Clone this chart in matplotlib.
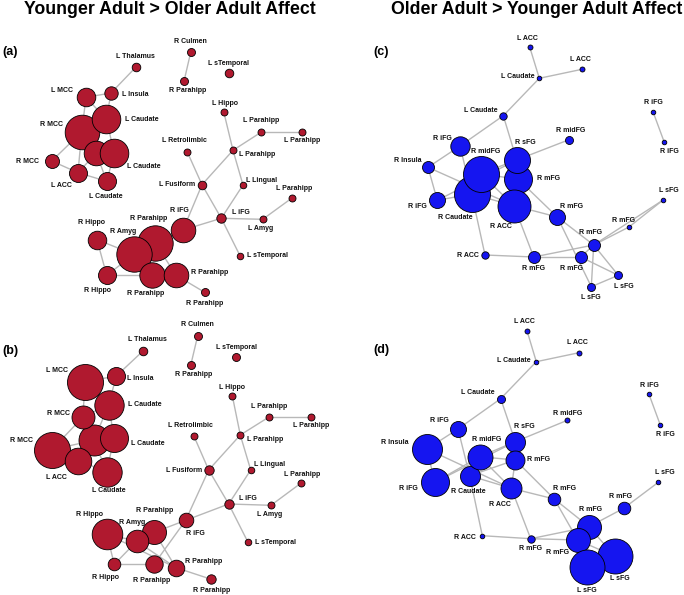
import matplotlib
matplotlib.use('Agg')
import matplotlib.pyplot as plt

RED = '#b0192f'
BLUE = '#1515f0'
EDGE = '#b8b8b8'
DPI = 100

# ---------------- panel (a) ----------------
a_names = ['L Thalamus', 'R Culmen', 'R Parahipp', 'L sTemporal', 'L MCC', 'L Insula',
           'R MCC', 'L Caudate', '', 'L Caudate', 'R MCC', 'L ACC', 'L Caudate',
           'L Hippo', 'L Parahipp', 'L Parahipp', 'L Parahipp', 'L Retrolimbic',
           'L Fusiform', 'L Lingual', 'L Parahipp', 'L iFG', 'L Amyg', 'L sTemporal',
           'R iFG', 'R Hippo', 'R Hippo', 'R Parahipp', 'R Amyg', 'R Parahipp',
           'R Parahipp', 'R Parahipp']
a_x = [135.7, 190.7, 184, 228.7, 86, 111, 81.7, 106.3, 96.3, 114.3, 51.7, 78, 106.7,
       223.7, 261, 301.7, 233, 187.3, 202, 243, 292, 221.3, 262.7, 240,
       183, 97, 106.7, 155.3, 134, 152.3, 176, 204.7]
a_y = [67.3, 52.3, 81.3, 72.7, 97.3, 93, 132, 119.3, 153, 153, 161, 172.7, 181.3,
       111.7, 132.3, 132.3, 150.3, 152, 184.7, 185, 198, 218.3, 219.3, 255.7,
       230, 239.7, 275.3, 243, 254.3, 275.3, 275.3, 292.3]
a_size = [4.3, 4, 4, 4.3, 9.3, 6.7, 17.3, 14.3, 12.3, 14.3, 7, 9, 9,
          3.5, 3.5, 3.5, 3.5, 3.5, 4.3, 3.3, 3.5, 4.7, 3.5, 3.3,
          12.3, 9.3, 9, 17.7, 17.7, 12.7, 12.3, 4]
a_edges = [(0, 5), (1, 2), (4, 5), (4, 6), (4, 7), (5, 7), (6, 7), (6, 8), (6, 9), (7, 9),
           (6, 10), (10, 11), (11, 8), (11, 12), (12, 9), (6, 11), (8, 12),
           (13, 16), (16, 14), (14, 15), (16, 18), (16, 19), (17, 18), (18, 21), (18, 24),
           (19, 21), (21, 24), (21, 22), (22, 20), (21, 23),
           (24, 27), (27, 28), (28, 25), (25, 26), (26, 29), (28, 29), (28, 30), (27, 30),
           (30, 31), (26, 28)]
a_labels = [(135.7, 56.7, 'c'), (190.7, 41.7, 'c'), (187.3, 90, 'c'), (228.7, 63.7, 'c'),
            (61.7, 90, 'c'), (121.7, 94.7, 'l'), (63.3, 125, 'r'), (125.3, 119.3, 'l'),
            (0, 0, 'c'), (127, 166, 'l'), (39, 161.3, 'r'), (61.7, 185.3, 'c'),
            (106.3, 197, 'c'), (225, 103.3, 'c'), (260.7, 120, 'c'), (301.7, 141, 'c'),
            (239, 154.3, 'l'), (184, 141, 'c'), (195, 184.7, 'r'), (246, 180, 'l'),
            (294, 188.7, 'c'), (231.7, 212, 'l'), (261, 228.7, 'c'), (247.3, 255.7, 'l'),
            (179, 210.3, 'c'), (91, 222.7, 'c'), (97, 291, 'c'), (149, 218.7, 'c'),
            (123.3, 231.7, 'c'), (145.3, 293.3, 'c'), (190.7, 272.3, 'l'), (204.7, 303.3, 'c')]

# ---------------- panel (b) ----------------
b_names = a_names
b_x = [143.3, 197.7, 190.7, 235.7, 85.3, 116.3, 51.7, 108.7, 94, 114, 82.7, 78.3, 106.7,
       232.3, 269, 310.7, 240.3, 194, 208.7, 250.7, 300.7, 228.7, 271, 247.7,
       185.7, 106.7, 114.3, 154.3, 136.7, 154, 176, 211.3]
b_y = [350.7, 335.7, 365.3, 356.7, 381.7, 376, 449.7, 404.7, 440.3, 438.3, 417.3, 460.7, 471.7,
       395.7, 417, 417, 435, 436.3, 470, 470, 483.3, 504, 505.3, 541.7,
       520.3, 534, 564.3, 532.3, 541.3, 564.3, 567.7, 579.3]
b_size = [4.3, 4, 4, 4, 18, 9, 18, 14.7, 15.5, 14, 11.5, 13.3, 14.7,
          3.5, 3.5, 3.5, 3.5, 3.5, 4.7, 3.3, 3.5, 4.7, 3.5, 3.3,
          7.3, 15.3, 6.3, 12, 11.3, 8.7, 8.3, 4.7]
b_edges = [(0, 5), (1, 2), (4, 5), (4, 7), (4, 10), (5, 7), (7, 10), (7, 8), (7, 9),
           (10, 6), (10, 8), (6, 11), (6, 8), (11, 8), (8, 9), (9, 12), (11, 12), (8, 12),
           (13, 16), (16, 14), (14, 15), (16, 18), (16, 19), (17, 18), (18, 21), (18, 24),
           (19, 21), (21, 24), (21, 22), (22, 20), (21, 23),
           (24, 27), (24, 29), (27, 28), (28, 25), (25, 26), (26, 28), (26, 29), (28, 30),
           (27, 30), (30, 31), (25, 30)]
b_labels = [(147.3, 339.7, 'c'), (197.7, 324.3, 'c'), (194, 374, 'c'), (236, 347.7, 'c'),
            (56.7, 370.7, 'c'), (127.3, 378.7, 'l'), (32.7, 440.7, 'r'), (127.7, 404.7, 'l'),
            (0, 0, 'c'), (131, 443.3, 'l'), (58.3, 413.3, 'c'), (56.7, 477.3, 'c'),
            (108.7, 491, 'c'), (232.3, 387.3, 'c'), (269.3, 406.3, 'c'), (310.7, 425.7, 'c'),
            (246.7, 439.3, 'l'), (190.7, 425.7, 'c'), (201.7, 470, 'r'), (254, 465, 'l'),
            (301.7, 474, 'c'), (239.3, 498.7, 'l'), (269.3, 514.3, 'c'), (255, 542, 'l'),
            (195, 533.3, 'c'), (89.3, 514, 'c'), (106, 577.7, 'c'), (154.3, 510.3, 'c'),
            (131.7, 522, 'c'), (151.7, 580.3, 'c'), (185.3, 561.7, 'l'), (211.3, 590.3, 'c')]

# ---------------- panel (c) ----------------
c_names = ['L ACC', 'L ACC', 'L Caudate', 'L Caudate', 'R iFG', 'R iFG', 'R midFG',
           'R iFG', 'R Insula', 'R iFG', 'R Caudate', 'R midFG', 'R mFG', 'R sFG', 'R ACC',
           'R mFG', 'R mFG', 'L sFG', 'R ACC', 'R mFG', 'R mFG', 'R mFG', 'L sFG', 'L sFG']
c_x = [529.7, 582, 539.3, 503.3, 653, 664.3, 569, 460, 428, 437.3, 471.7, 480.7, 518.3,
       516.7, 514, 557.3, 629, 662.7, 485, 533.7, 580.7, 593.7, 618.3, 591.3]
c_y = [47, 69.3, 78.3, 115.7, 111.7, 142.3, 139.7, 146, 167.3, 200.3, 194, 173.7, 179.3,
       160, 205.7, 217, 227, 200.3, 255, 257, 257, 245, 275.3, 286.7]
c_size = [2.5, 2.5, 2.3, 3.7, 2.3, 2.3, 4, 9.7, 6, 8, 18, 18, 14, 13, 16.5,
          8, 2.3, 2.3, 3.7, 6, 6, 6, 4, 4]
c_edges = [(0, 2), (1, 2), (2, 3), (3, 7), (3, 13), (4, 5), (6, 13), (7, 8), (7, 10),
           (8, 9), (8, 14), (9, 13), (9, 10), (11, 13), (11, 12), (11, 10), (11, 14),
           (13, 12), (12, 14), (12, 15), (10, 18), (10, 14), (14, 19), (14, 15), (18, 19),
           (19, 20), (19, 21), (15, 21), (15, 23), (21, 16), (16, 17), (21, 17), (21, 22),
           (21, 23), (20, 22), (22, 23), (20, 21)]
c_labels = [(527.3, 38, 'c'), (580.7, 59.3, 'c'), (534.7, 76.7, 'r'), (497.3, 110, 'r'),
            (653, 102.3, 'c'), (669.7, 151.7, 'c'), (570.7, 130.3, 'c'), (442.3, 138, 'c'),
            (421.3, 161, 'r'), (417, 207, 'c'), (455.7, 217.3, 'c'), (485.3, 151.3, 'c'),
            (537, 178.3, 'l'), (525, 142.7, 'c'), (500.7, 227, 'c'), (572, 206.3, 'c'),
            (624, 220, 'c'), (669, 190.7, 'c'), (478.7, 255.7, 'r'), (534, 268.7, 'c'),
            (571.3, 268.7, 'c'), (590.3, 232.3, 'c'), (624, 286.7, 'c'), (591.3, 297.7, 'c')]

# ---------------- panel (d) ----------------
d_names = ['L ACC', 'L ACC', 'L Caudate', 'L Caudate', 'R iFG', 'R iFG', 'R midFG',
           'R iFG', 'R Insula', 'R iFG', 'R Caudate', 'R midFG', 'R sFG', 'R mFG', 'R ACC',
           'R mFG', 'R mFG', 'L sFG', 'R ACC', 'R mFG', 'R mFG', 'R mFG', 'L sFG', 'L sFG']
d_x = [527, 579, 536.3, 500.7, 649, 660.3, 567.3, 458, 427, 434.7, 469.7, 479.7, 515.3,
       515.3, 511.3, 554.3, 623.7, 658.3, 482.3, 530.7, 589, 577.7, 614.7, 586.7]
d_y = [330.7, 352.7, 361.7, 398.7, 394.3, 425, 420.3, 429, 449, 482.3, 475.7, 456.7, 441.7,
       460, 488.3, 499, 508.3, 482.3, 535.7, 538.7, 526.7, 540, 556.3, 567]
d_size = [2.5, 2.5, 2.3, 4, 2.3, 2.3, 2.5, 8, 15, 14, 10, 12.5, 10, 9.5, 10.5,
          6.3, 6.3, 2.3, 2.3, 3.7, 12, 12, 17.5, 17.5]
d_edges = [(0, 2), (1, 2), (2, 3), (3, 7), (3, 12), (4, 5), (6, 12), (7, 8), (7, 10),
           (8, 9), (8, 14), (9, 11), (9, 12), (11, 10), (11, 12), (11, 13), (11, 14),
           (12, 13), (10, 13), (10, 14), (10, 18), (13, 14), (13, 15), (14, 15), (14, 19),
           (18, 19), (19, 20), (19, 21), (15, 20), (15, 21), (20, 16), (16, 17), (20, 22),
           (20, 23), (21, 22), (22, 23)]
d_labels = [(524.7, 321.7, 'c'), (577.7, 343, 'c'), (530.7, 360, 'r'), (494.7, 393, 'r'),
            (649, 385.3, 'c'), (665.7, 434.3, 'c'), (567.3, 413.3, 'c'), (439.7, 421, 'c'),
            (408.7, 442.7, 'r'), (408, 488.3, 'c'), (468.7, 491.3, 'c'), (486.7, 439.7, 'c'),
            (524, 426, 'c'), (527.3, 459.3, 'l'), (499.7, 504, 'c'), (564.3, 488.3, 'c'),
            (620.7, 496.7, 'c'), (665.3, 473, 'c'), (476.3, 537.3, 'r'), (530.7, 549, 'c'),
            (590.3, 509.3, 'c'), (558, 552.3, 'c'), (619.7, 579, 'c'), (586.7, 590.3, 'c')]

HA = {'c': 'center', 'l': 'left', 'r': 'right'}


def draw_network(ax, names, xs, ys, sizes, edges, labels, color):
    # edges first, then nodes on top
    for i, j in edges:
        ax.plot([xs[i], xs[j]], [ys[i], ys[j]], color=EDGE, lw=1.0, zorder=1,
                solid_capstyle='round')
    s = [(2 * r * 72.0 / DPI) ** 2 for r in sizes]
    for k in range(len(xs)):
        ax.scatter(xs[k], ys[k], s=s[k], c=color, edgecolors='black',
                   linewidths=0.6, zorder=2 + k * 0.01)
    for name, (lx, ly, h) in zip(names, labels):
        if not name:
            continue
        ax.text(lx, ly, name, fontsize=5, fontweight='bold', ha=HA[h], va='center',
                family='Liberation Sans', color='#111111', zorder=5)


fig = plt.figure(figsize=(6.84, 5.95), dpi=DPI)
ax = fig.add_axes([0, 0, 1, 1])
ax.set_xlim(0, 684)
ax.set_ylim(595, 0)
ax.axis('off')

draw_network(ax, a_names, a_x, a_y, a_size, a_edges, a_labels, RED)
draw_network(ax, b_names, b_x, b_y, b_size, b_edges, b_labels, RED)
draw_network(ax, c_names, c_x, c_y, c_size, c_edges, c_labels, BLUE)
draw_network(ax, d_names, d_x, d_y, d_size, d_edges, d_labels, BLUE)

# titles
ax.text(170, 10, 'Younger Adult > Older Adult Affect', fontsize=12.8, fontweight='bold',
        family='Liberation Sans', ha='center', va='center')
ax.text(536.5, 10, 'Older Adult > Younger Adult Affect', fontsize=12.8, fontweight='bold',
        family='Liberation Sans', ha='center', va='center')

# panel letters
for lab, px, py in [('(a)', 2, 52), ('(b)', 2, 351), ('(c)', 373, 52), ('(d)', 373, 350)]:
    ax.text(px, py, lab, fontsize=9, fontweight='bold', family='Liberation Sans',
            ha='left', va='center')

fig.savefig('out.png', dpi=DPI)
